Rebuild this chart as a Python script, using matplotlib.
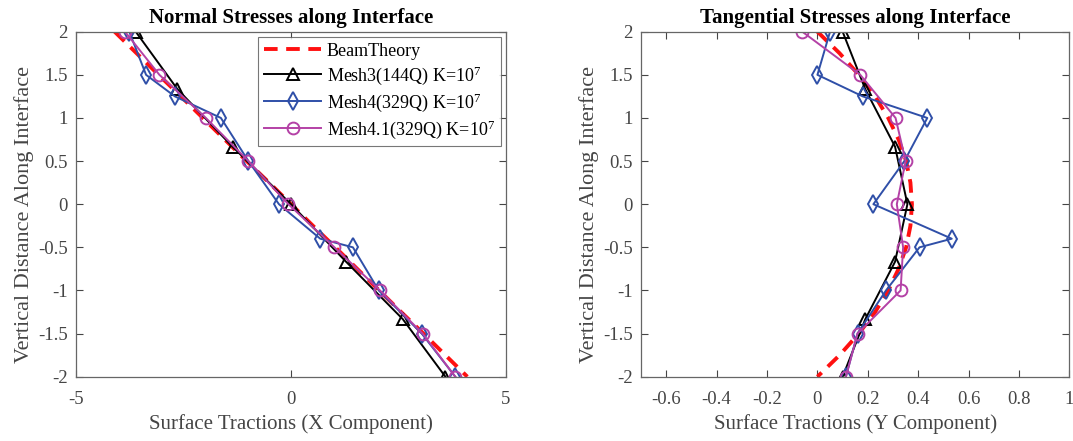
import matplotlib
matplotlib.use('Agg')
import matplotlib.pyplot as plt
import numpy as np

plt.rcParams['font.family'] = ['Liberation Serif', 'DejaVu Serif']
plt.rcParams['mathtext.fontset'] = 'custom'
plt.rcParams['mathtext.rm'] = 'Liberation Serif'
plt.rcParams['mathtext.it'] = 'Liberation Serif:italic'

# beam theory reference (x: normal, tau: tangential)
bt_y = [2.0, 1.75, 1.5, 1.25, 1.0, 0.75, 0.5, 0.25, 0.0,
        -0.25, -0.5, -0.75, -1.0, -1.25, -1.5, -1.75, -2.0]
bt_sx = [-4.1, -3.59, -3.08, -2.56, -2.05, -1.54, -1.03, -0.51, 0.0,
         0.51, 1.03, 1.54, 2.05, 2.56, 3.08, 3.59, 4.1]
bt_tau = [0.0, 0.088, 0.164, 0.229, 0.281, 0.322, 0.352, 0.369, 0.375,
          0.369, 0.352, 0.322, 0.281, 0.229, 0.164, 0.088, 0.0]

# Mesh3 (144Q)
m3_y = [2.0, 1.333, 0.667, 0.0, -0.667, -1.333, -2.0]
m3_sx = [-3.61, -2.64, -1.36, 0.0, 1.28, 2.60, 3.59]
m3_tau = [0.10, 0.19, 0.308, 0.357, 0.308, 0.19, 0.10]

# Mesh4 (329Q)
m4_y = [2.0, 1.5, 1.25, 1.0, 0.5, 0.0, -0.4, -0.5, -1.0, -1.5, -2.0]
m4_sx = [-3.76, -3.37, -2.70, -1.63, -0.99, -0.28, 0.68, 1.44, 2.04, 3.04, 3.82]
m4_tau = [0.05, 0.0, 0.18, 0.436, 0.345, 0.222, 0.533, 0.405, 0.272, 0.159, 0.113]

# Mesh4.1 (329Q)
m41_y = [2.0, 1.5, 1.0, 0.5, 0.0, -0.5, -1.0, -1.5, -2.0]
m41_sx = [-3.86, -3.06, -1.98, -0.99, -0.06, 1.01, 2.07, 3.06, 3.82]
m41_tau = [-0.06, 0.17, 0.31, 0.35, 0.315, 0.34, 0.33, 0.159, 0.113]

txt_col = '#454545'
blue = '#2f4fa8'
mag = '#b441a6'

fig = plt.figure(figsize=(10.73, 4.41), dpi=100)
ax1 = fig.add_axes([0.0708, 0.1458, 0.4008, 0.7823])
ax2 = fig.add_axes([0.5974, 0.1458, 0.3993, 0.7823])


def draw(ax, bx, x3, x4, x41):
    ax.plot(bx, bt_y, color='#ff1010', lw=2.8, ls=(0, (3.5, 2.2)), label='BeamTheory')
    ax.plot(x3, m3_y, color='k', lw=1.4, marker='^', ms=9, mfc='none', mew=1.4,
            label='Mesh3(144Q) K=$10^7$')
    ax.plot(x4, m4_y, color=blue, lw=1.4, marker='d', ms=9, mfc='none', mew=1.4,
            label='Mesh4(329Q) K=$10^7$')
    ax.plot(x41, m41_y, color=mag, lw=1.4, marker='o', ms=8.5, mfc='none', mew=1.4,
            label='Mesh4.1(329Q) K=$10^7$')
    ax.set_ylim(-2, 2)
    ax.set_yticks(np.arange(-2, 2.01, 0.5))
    ax.set_yticklabels(['-2', '-1.5', '-1', '-0.5', '0', '0.5', '1', '1.5', '2'])
    ax.tick_params(direction='in', top=True, right=True, labelsize=13.5,
                   colors=txt_col, length=5, width=0.8)
    ax.tick_params(axis='x', pad=10)
    ax.tick_params(axis='y', pad=6)
    for s in ax.spines.values():
        s.set_color('#666666')
        s.set_linewidth(0.9)
    ax.set_ylabel('Vertical Distance Along Interface', fontsize=16, color=txt_col)
    ax.yaxis.set_label_coords(-0.097, 0.47)


draw(ax1, bt_sx, m3_sx, m4_sx, m41_sx)
ax1.set_xlim(-5, 5)
ax1.set_xticks([-5, 0, 5])
ax1.set_xticklabels(['-5', '0', '5'])
ax1.set_xlabel('Surface Tractions (X Component)', fontsize=15, color=txt_col, labelpad=5)
ax1.set_title('Normal Stresses along Interface', fontsize=15, fontweight='bold', pad=6)
leg = ax1.legend(loc='upper right', fontsize=13, frameon=True, fancybox=False,
                 edgecolor='#555555', handlelength=3.2, borderpad=0.3,
                 labelspacing=0.25, handletextpad=0.3, borderaxespad=0.3)
leg.get_frame().set_linewidth(0.8)

draw(ax2, bt_tau, m3_tau, m4_tau, m41_tau)
ax2.set_xlim(-0.7, 1)
ax2.set_xticks(np.arange(-0.6, 1.01, 0.2))
ax2.set_xticklabels(['-0.6', '-0.4', '-0.2', '0', '0.2', '0.4', '0.6', '0.8', '1'])
ax2.set_xlabel('Surface Tractions (Y Component)', fontsize=15, color=txt_col, labelpad=5)
ax2.set_title('Tangential Stresses along Interface', fontsize=15, fontweight='bold', pad=6)

fig.savefig('out.png', dpi=100)
